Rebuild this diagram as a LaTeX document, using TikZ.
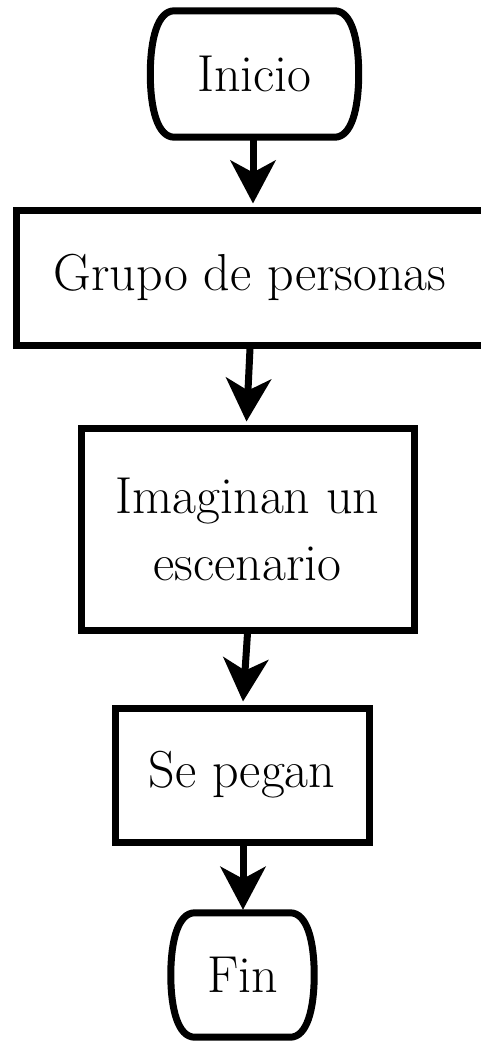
\documentclass[tikz,border=0pt]{standalone}
\usetikzlibrary{arrows.meta,calc}
\newcommand\termshape[2]{%
 \draw[termline] ($(#1.north west)+(#2,0)$) -- ($(#1.north east)+(-#2,0)$)
  .. controls ($(#1.north east)+(-0.3*#2,0)$) and ($(#1.east)!0.55!(#1.north east)$) .. (#1.east)
  .. controls ($(#1.east)!0.55!(#1.south east)$) and ($(#1.south east)+(-0.3*#2,0)$) .. ($(#1.south east)+(-#2,0)$)
  -- ($(#1.south west)+(#2,0)$)
  .. controls ($(#1.south west)+(0.3*#2,0)$) and ($(#1.west)!0.55!(#1.south west)$) .. (#1.west)
  .. controls ($(#1.west)!0.55!(#1.north west)$) and ($(#1.north west)+(0.3*#2,0)$) .. cycle;}
\begin{document}
\begin{tikzpicture}[x=1pt,y=-1pt,
  txt/.style={inner sep=0pt, align=center, font=\fontsize{52}{67}\selectfont},
  box/.style={txt, draw, line width=7pt, rectangle},
  termline/.style={draw, line width=7pt, line join=round},
  arr/.style={line width=7pt, -{Stealth[length=43pt,width=45pt,inset=12pt]}}]
\useasboundingbox (0,0) rectangle (480,1041);
\node[txt, minimum width=208pt, minimum height=126pt] (start) at (254.5,74) {Inicio};
\termshape{start}{24}
\node[box, minimum width=468pt, minimum height=135pt] (grupo) at (250,277.5) {Grupo de personas};
\node[box, minimum width=333pt, minimum height=202pt] (imag) at (247.5,529) {Imaginan un\\escenario};
\node[box, minimum width=254pt, minimum height=134pt] (pegan) at (242,775) {Se pegan};
\node[txt, minimum width=143pt, minimum height=124pt] (fin) at (242.5,975) {Fin};
\termshape{fin}{24}
\draw[arr] ($(start.south)+(-1.5,0)$) -- ($(grupo.north)+(3,-3)$);
\draw[arr] (grupo.south) -- ($(imag.north)+(-1,-3)$);
\draw[arr] (imag.south) -- ($(pegan.north)+(1,-3)$);
\draw[arr] ($(pegan.south)+(1,0)$) -- ($(fin.north)+(0.5,-3)$);
\end{tikzpicture}
\end{document}
